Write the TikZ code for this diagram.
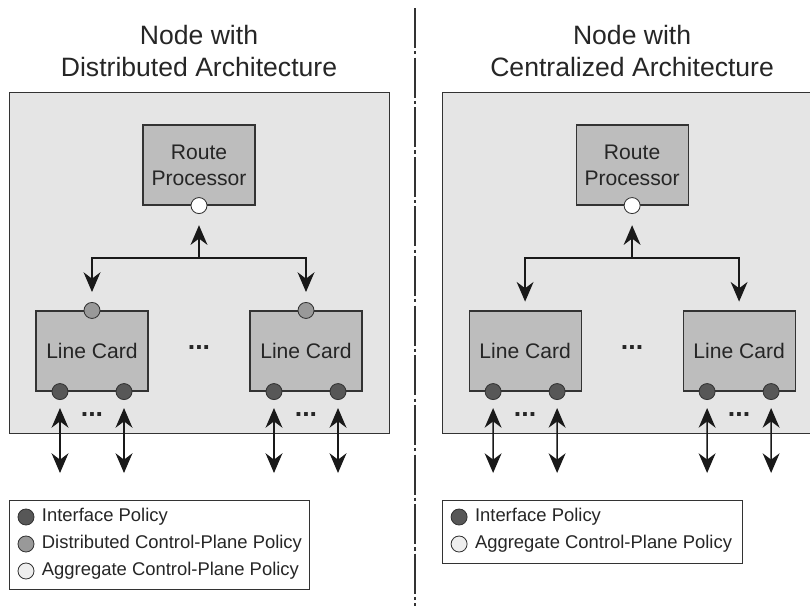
\documentclass[tikz,border=0pt]{standalone}
\usepackage{fontspec}
\setmainfont{Liberation Sans}
\usetikzlibrary{arrows.meta,positioning}
\definecolor{framegray}{HTML}{E5E5E5}
\definecolor{cardgray}{HTML}{BDBDBD}
\definecolor{ifgray}{HTML}{575757}
\definecolor{dcpgray}{HTML}{999999}
\definecolor{agggray}{HTML}{EEEEEE}
\definecolor{linegray}{HTML}{333333}
\definecolor{textgray}{HTML}{262626}
\tikzset{bigtip/.tip={Stealth[length=14pt,width=12pt,inset=4.5pt]}}

\begin{document}
\begin{tikzpicture}[
  x=0.025cm, y=-0.025cm,
  every node/.style={text=textgray},
  frame/.style={draw=linegray, line width=0.8pt, fill=framegray, anchor=north west, inner sep=0pt},
  title/.style={align=center, font=\fontsize{18.9}{22.7}\selectfont},
  card/.style={draw=linegray, line width=0.8pt, fill=cardgray, minimum width=2.8cm, minimum height=2cm,
    align=center, font=\fontsize{15}{18.4}\selectfont},
  pol/.style={circle, draw=linegray, line width=0.6pt, minimum size=0.4cm, inner sep=0pt},
  ifpol/.style={pol, fill=ifgray},
  dcppol/.style={pol, fill=dcpgray},
  aggpol/.style={pol, fill=white},
  dots/.style={font=\fontsize{19}{20}\selectfont\bfseries, inner sep=0pt},
  link/.style={draw=black!90, line width=1.1pt},
  legbox/.style={draw=linegray, line width=0.8pt, fill=white, anchor=north west, minimum width=7.5cm, inner sep=0pt},
  legtext/.style={font=\fontsize{13.1}{15}\selectfont, inner sep=0pt},
  divider/.style={draw=linegray, line width=1pt, dash pattern=on 1cm off 0.08cm on 0.08cm off 0.08cm},
  ]
  \useasboundingbox (0,0) rectangle (810,606);
  \clip (0,0) rectangle (810,606);

  % distributed node
  \node[frame, minimum width=9.5cm, minimum height=8.525cm] (d-frame) at (9,92) {};
  \node[title] (d-title) at (199,51) {Node with\\Distributed Architecture};
  \node[card] (d-rp) at (199,165) {Route\\Processor};
  \node[aggpol] (d-rpol) at (d-rp.south) {};
  \node[card] (d-lc1) at (92,351) {Line Card};
  \node[card] (d-lc2) at (306,351) {Line Card};
  \node[dots] (d-dots) at (199,348) {...};
  \node[dcppol] (d-lc1top) at (d-lc1.north) {};
  \node[dcppol] (d-lc2top) at (d-lc2.north) {};
  \node[ifpol] (d-p1) at ([xshift=-0.8cm]d-lc1.south) {};
  \node[ifpol] (d-p2) at ([xshift=0.8cm]d-lc1.south) {};
  \node[ifpol] (d-p3) at ([xshift=-0.8cm]d-lc2.south) {};
  \node[ifpol] (d-p4) at ([xshift=0.8cm]d-lc2.south) {};
  \node[dots] (d-pdots1) at (92,415) {...};
  \node[dots] (d-pdots2) at (306,415) {...};
  \coordinate (d-fork) at (199,258);
  \coordinate (d-out1) at (60,473);
  \coordinate (d-out2) at (124,473);
  \coordinate (d-out3) at (274,473);
  \coordinate (d-out4) at (338,473);

  \draw[link,-bigtip,shorten >=0.28cm] (d-fork) -- (d-rpol);
  \draw[link,-bigtip,shorten >=0.25cm] (d-fork) -| (d-lc1top);
  \draw[link,-bigtip,shorten >=0.25cm] (d-fork) -| (d-lc2top);
  \draw[link,bigtip-bigtip,shorten <=0.2cm] (d-p1) -- (d-out1);
  \draw[link,bigtip-bigtip,shorten <=0.2cm] (d-p2) -- (d-out2);
  \draw[link,bigtip-bigtip,shorten <=0.2cm] (d-p3) -- (d-out3);
  \draw[link,bigtip-bigtip,shorten <=0.2cm] (d-p4) -- (d-out4);

  \node[legbox, minimum height=2.225cm] (d-leg) at (9,500) {};
  \node[ifpol] (d-leg1) at (26,517) {};
  \node[dcppol] (d-leg2) at (26,544) {};
  \node[pol, fill=agggray] (d-leg3) at (26,571) {};
  \node[legtext, right=0.18cm of d-leg1] (d-leg1t) {Interface Policy};
  \node[legtext, right=0.18cm of d-leg2] (d-leg2t) {Distributed Control-Plane Policy};
  \node[legtext, right=0.18cm of d-leg3] (d-leg3t) {Aggregate Control-Plane Policy};

  % separator
  \coordinate (sep-top) at (415,8);
  \coordinate (sep-bot) at (415,606);
  \draw[divider] (sep-top) -- (sep-bot);

  % centralized node
  \begin{scope}[xshift=10.825cm]
  \node[frame, minimum width=9.5cm, minimum height=8.525cm] (c-frame) at (9,92) {};
  \node[title] (c-title) at (199,51) {Node with\\Centralized Architecture};
  \node[card] (c-rp) at (199,165) {Route\\Processor};
  \node[aggpol] (c-rpol) at (c-rp.south) {};
  \node[card] (c-lc1) at (92,351) {Line Card};
  \node[card] (c-lc2) at (306,351) {Line Card};
  \node[dots] (c-dots) at (199,348) {...};
  \node[ifpol] (c-p1) at ([xshift=-0.8cm]c-lc1.south) {};
  \node[ifpol] (c-p2) at ([xshift=0.8cm]c-lc1.south) {};
  \node[ifpol] (c-p3) at ([xshift=-0.8cm]c-lc2.south) {};
  \node[ifpol] (c-p4) at ([xshift=0.8cm]c-lc2.south) {};
  \node[dots] (c-pdots1) at (92,415) {...};
  \node[dots] (c-pdots2) at (306,415) {...};
  \coordinate (c-fork) at (199,258);
  \coordinate (c-out1) at (60,473);
  \coordinate (c-out2) at (124,473);
  \coordinate (c-out3) at (274,473);
  \coordinate (c-out4) at (338,473);

  \node[legbox, minimum height=1.575cm] (c-leg) at (9,500) {};
  \node[ifpol] (c-leg1) at (26,517) {};
  \node[pol, fill=agggray] (c-leg2) at (26,544) {};
  \node[legtext, right=0.18cm of c-leg1] (c-leg1t) {Interface Policy};
  \node[legtext, right=0.18cm of c-leg2] (c-leg2t) {Aggregate Control-Plane Policy};
  \end{scope}

  \draw[link,-bigtip,shorten >=0.28cm] (c-fork) -- (c-rpol);
  \draw[link,-bigtip,shorten >=0.22cm] (c-fork) -| (c-lc1);
  \draw[link,-bigtip,shorten >=0.22cm] (c-fork) -| (c-lc2);
  \draw[link,bigtip-bigtip,shorten <=0.2cm] (c-p1) -- (c-out1);
  \draw[link,bigtip-bigtip,shorten <=0.2cm] (c-p2) -- (c-out2);
  \draw[link,bigtip-bigtip,shorten <=0.2cm] (c-p3) -- (c-out3);
  \draw[link,bigtip-bigtip,shorten <=0.2cm] (c-p4) -- (c-out4);

\end{tikzpicture}
\end{document}
